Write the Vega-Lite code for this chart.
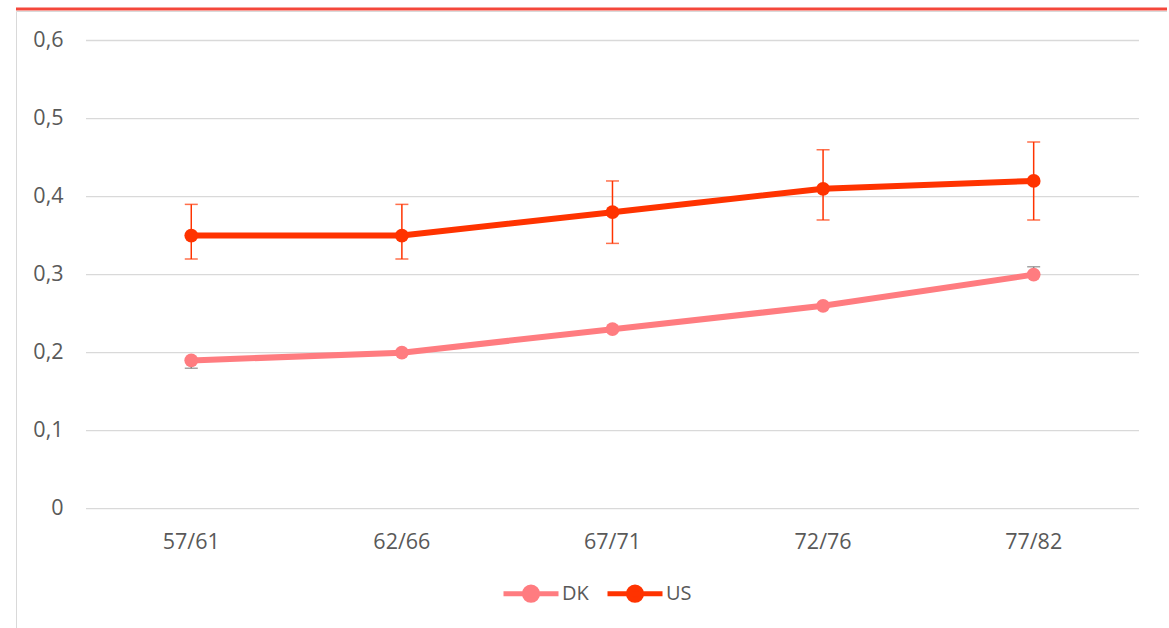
{
  "$schema": "https://vega.github.io/schema/vega-lite/v6.json",
  "width": 1151,
  "height": 620,
  "autosize": {"type": "none"},
  "padding": {"left": 16, "top": 11, "right": 0, "bottom": 0},
  "background": "#ffffff",
  "config": {
    "view": {"stroke": "#d9d9d9", "strokeWidth": 1},
    "font": "Open Sans",
    "axis": {"labelFont": "Open Sans", "labelColor": "#595959", "labelFontSize": 21.5}
  },
  "datasets": {
    "rates": [
      {"period": "57/61", "series": "DK", "value": 0.19, "lo": 0.18, "hi": 0.19},
      {"period": "62/66", "series": "DK", "value": 0.20, "lo": 0.20, "hi": 0.20},
      {"period": "67/71", "series": "DK", "value": 0.23, "lo": 0.23, "hi": 0.23},
      {"period": "72/76", "series": "DK", "value": 0.26, "lo": 0.26, "hi": 0.26},
      {"period": "77/82", "series": "DK", "value": 0.30, "lo": 0.30, "hi": 0.31},
      {"period": "57/61", "series": "US", "value": 0.35, "lo": 0.32, "hi": 0.39},
      {"period": "62/66", "series": "US", "value": 0.35, "lo": 0.32, "hi": 0.39},
      {"period": "67/71", "series": "US", "value": 0.38, "lo": 0.34, "hi": 0.42},
      {"period": "72/76", "series": "US", "value": 0.41, "lo": 0.37, "hi": 0.46},
      {"period": "77/82", "series": "US", "value": 0.42, "lo": 0.37, "hi": 0.47}
    ],
    "gridlines": [
      {"v": 0}, {"v": 0.1}, {"v": 0.2}, {"v": 0.3}, {"v": 0.4}, {"v": 0.5}, {"v": 0.6}
    ]
  },
  "layer": [
    {
      "data": {"name": "gridlines"},
      "mark": {"type": "rule", "color": "#d9d9d9", "strokeWidth": 1.3},
      "encoding": {
        "x": {"datum": "57/61", "type": "nominal", "bandPosition": 0,
              "scale": {"type": "band", "paddingInner": 0, "paddingOuter": 0.2327, "align": 0.714}},
        "x2": {"datum": "77/82", "bandPosition": 1},
        "y": {"field": "v", "type": "quantitative",
              "scale": {"domain": [-0.1567, 0.6378], "nice": false, "zero": false}}
      }
    },
    {
      "data": {"name": "rates"},
      "mark": {"type": "rule", "strokeWidth": 1.5},
      "encoding": {
        "x": {"field": "period", "type": "nominal"},
        "y": {"field": "lo", "type": "quantitative"},
        "y2": {"field": "hi"},
        "color": {"condition": {"test": "datum.series === 'US'", "value": "#ff3300"}, "value": "#7f7f7f"}
      }
    },
    {
      "data": {"name": "rates"},
      "mark": {"type": "tick", "size": 13, "thickness": 1.5},
      "encoding": {
        "x": {"field": "period", "type": "nominal"},
        "y": {"field": "lo", "type": "quantitative"},
        "color": {"condition": {"test": "datum.series === 'US'", "value": "#ff3300"}, "value": "#7f7f7f"}
      }
    },
    {
      "data": {"name": "rates"},
      "mark": {"type": "tick", "size": 13, "thickness": 1.5},
      "encoding": {
        "x": {"field": "period", "type": "nominal"},
        "y": {"field": "hi", "type": "quantitative"},
        "color": {"condition": {"test": "datum.series === 'US'", "value": "#ff3300"}, "value": "#7f7f7f"}
      }
    },
    {
      "data": {"name": "rates"},
      "mark": {"type": "line", "strokeWidth": 6, "strokeCap": "round", "strokeJoin": "round"},
      "encoding": {
        "x": {"field": "period", "type": "nominal",
              "axis": {"title": null, "orient": "bottom", "offset": -100, "labelPadding": 0,
                       "ticks": false, "domain": false, "grid": false, "labelAngle": 0,
                       "labelAlign": "center", "bandPosition": 0.5,
                       "labelBaseline": "top"}},
        "y": {"field": "value", "type": "quantitative",
              "axis": {"title": null, "values": [0, 0.1, 0.2, 0.3, 0.4, 0.5, 0.6],
                       "labelExpr": "replace(format(datum.value, '.1~f'), '.', ',')",
                       "offset": -47, "labelPadding": 0, "ticks": false, "domain": false,
                       "grid": false}},
        "color": {
          "field": "series", "type": "nominal",
          "scale": {"domain": ["DK", "US"], "range": ["#ff7c80", "#ff3300"]},
          "legend": {
            "title": null, "orient": "none", "direction": "horizontal",
            "legendX": 485, "legendY": 552.5, "padding": 0,
            "symbolType": "M-1,0L1,0M-0.24,0A0.24,0.24 0 1,0 0.24,0A0.24,0.24 0 1,0 -0.24,0Z",
            "symbolSize": 3025, "symbolStrokeWidth": 5, "symbolOpacity": 1,
            "labelFont": "Open Sans", "labelFontSize": 20, "labelColor": "#595959",
            "labelOffset": 1, "columnPadding": 8,
            "encode": {
              "symbols": {
                "update": {
                  "fill": {"scale": "color", "field": "value"},
                  "stroke": {"scale": "color", "field": "value"}
                }
              }
            }
          }
        }
      }
    },
    {
      "data": {"name": "rates"},
      "mark": {"type": "point", "filled": true, "size": 190, "opacity": 1, "shape": "circle"},
      "encoding": {
        "x": {"field": "period", "type": "nominal"},
        "y": {"field": "value", "type": "quantitative"},
        "color": {"field": "series", "type": "nominal"}
      }
    },
    {
      "data": {"values": [{}]},
      "mark": {"type": "rule", "color": "#f4473b", "strokeWidth": 3},
      "encoding": {
        "y": {"datum": 0.6404, "type": "quantitative"}
      }
    }
  ]
}
